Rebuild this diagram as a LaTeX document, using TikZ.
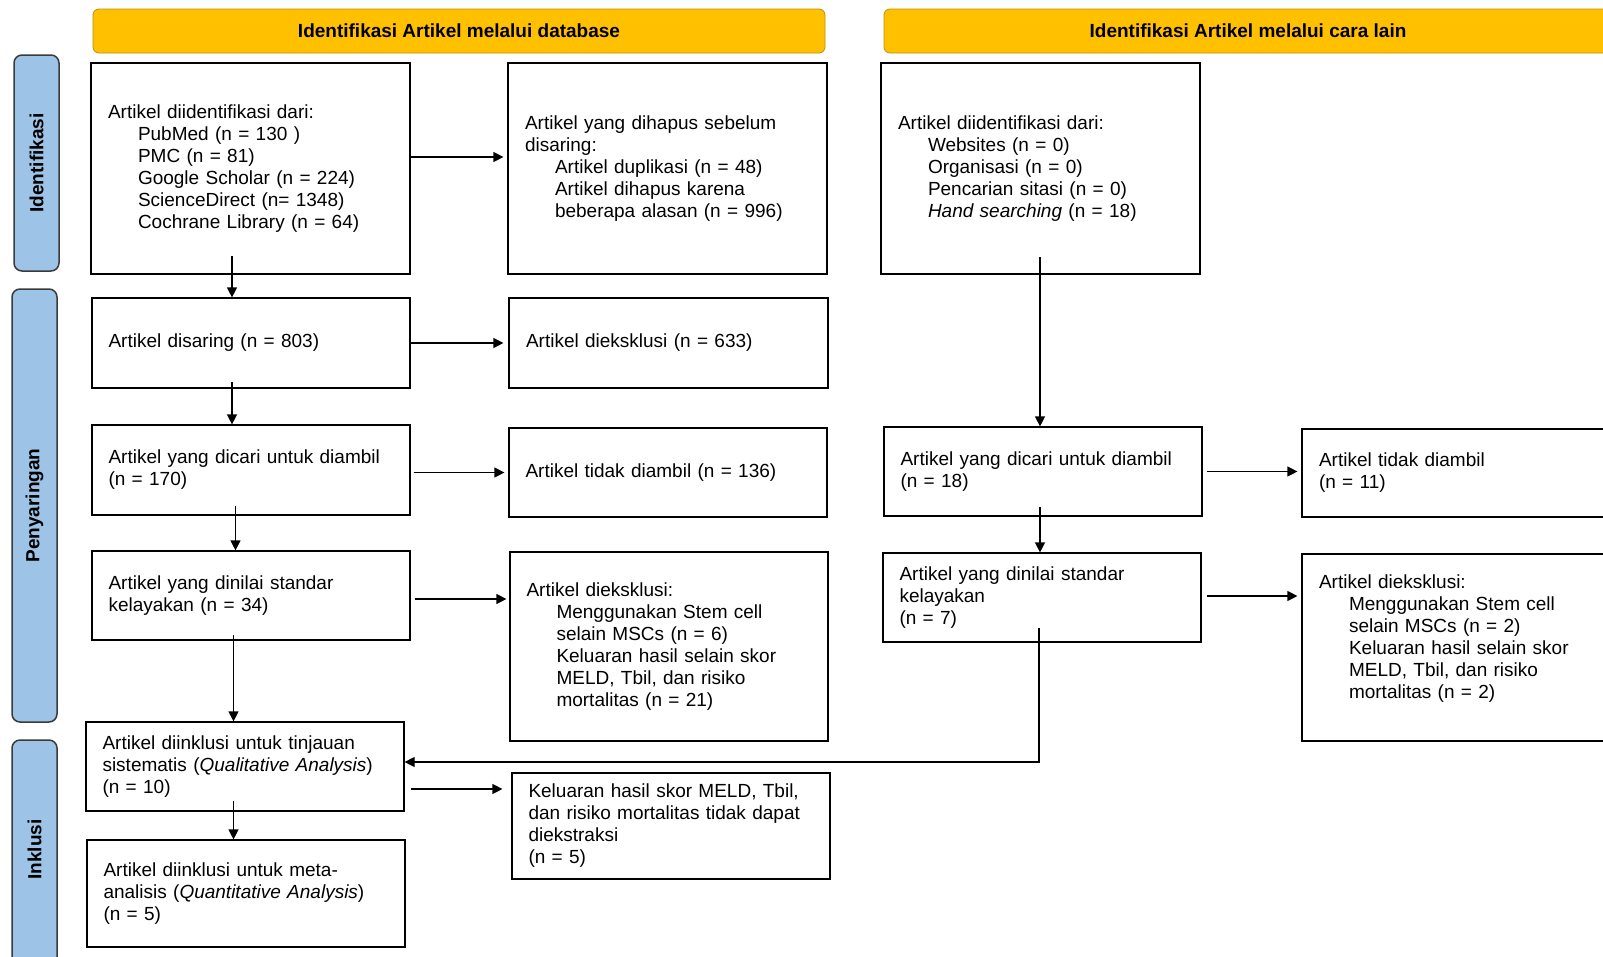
\documentclass[tikz,border=0pt]{standalone}
\usepackage{fontspec}
\setmainfont{Liberation Sans}
\usetikzlibrary{arrows.meta}
\definecolor{hdr}{HTML}{FFC000}
\definecolor{hdrline}{HTML}{C09000}
\definecolor{lanefill}{HTML}{9DC3E6}
\definecolor{laneline}{HTML}{3A3A3A}
\newcommand{\myind}{\hspace*{30pt}}
\begin{document}
\begin{tikzpicture}[x=1pt,y=-1pt,
  txt/.style={font=\fontsize{19}{22}\selectfont},
  box/.style n args={2}{draw=black, line width=1.2pt, rectangle, inner xsep=16.5pt, inner ysep=4pt,
    align=left, text width=285pt, txt, minimum width=#1pt, minimum height=#2pt},
  hdrbar/.style={draw=hdrline, line width=0.8pt, fill=hdr, rounded corners=6pt, rectangle,
    minimum height=44pt, txt, font=\fontsize{19}{22}\selectfont\bfseries},
  lanebar/.style={draw=laneline, line width=1.5pt, fill=lanefill, rounded corners=8pt, rectangle,
    minimum width=45pt},
  lanelabel/.style={rotate=90, font=\fontsize{19}{22}\selectfont\bfseries},
  arr/.style={line width=1.2pt, -{Triangle[length=10pt,width=10pt]}}]
\useasboundingbox (0,0) rectangle (1603,956);
\clip (0,0) rectangle (1603,956);

% header bars
\node[hdrbar, minimum width=732pt] (H1) at (459,31) {Identifikasi Artikel melalui database};
\node[hdrbar, minimum width=728pt] (H2) at (1248,31) {Identifikasi Artikel melalui cara lain};

% lane bars
\node[lanebar, minimum height=216pt] (L1) at (36.5,163) {};
\node[lanelabel] (L1t) at (L1.center) {Identifikasi};
\node[lanebar, minimum height=433pt] (L2) at (34.5,505.5) {};
\node[lanelabel] (L2t) at (L2.center) {Penyaringan};
\node[lanebar, minimum height=225pt] (L3) at (34.5,852.5) {};
\node[lanelabel] (L3t) at (34.5,849.5) {Inklusi};

% boxes
\node[box={319}{211}] (A1) at (250.5,168.5) {Artikel diidentifikasi dari:\\
\myind PubMed (n = 130 )\\
\myind PMC (n = 81)\\
\myind Google Scholar (n = 224)\\
\myind ScienceDirect (n= 1348)\\
\myind Cochrane Library (n = 64)};
\node[box={319}{211}] (B1) at (667.5,168.5) {Artikel yang dihapus sebelum\\
disaring:\\
\myind Artikel duplikasi (n = 48)\\
\myind Artikel dihapus karena\\
\myind beberapa alasan (n = 996)};
\node[box={319}{211}] (C1) at (1040.5,168.5) {Artikel diidentifikasi dari:\\
\myind Websites (n = 0)\\
\myind Organisasi (n = 0)\\
\myind Pencarian sitasi (n = 0)\\
\myind \textit{Hand searching} (n = 18)};

\node[box={318}{90}] (A2) at (251,343) {Artikel disaring (n = 803)};
\node[box={319}{90}] (B2) at (668.5,343) {Artikel dieksklusi (n = 633)};

\node[box={318}{90}] (A3) at (251,470) {Artikel yang dicari untuk diambil\\(n = 170)};
\node[box={318}{89}] (B3) at (668,472.5) {Artikel tidak diambil (n = 136)};
\node[box={318}{89}] (C3) at (1043,471.5) {Artikel yang dicari untuk diambil\\(n = 18)};
\node[box={319}{88}] (D3) at (1461.5,473) {Artikel tidak diambil\\(n = 11)};

\node[box={318}{89}] (A4) at (251,595.5) {Artikel yang dinilai standar\\kelayakan (n = 34)};
\node[box={318}{189}] (B4) at (669,646.5) {Artikel dieksklusi:\\
\myind Menggunakan Stem cell\\
\myind selain MSCs (n = 6)\\
\myind Keluaran hasil selain skor\\
\myind MELD, Tbil, dan risiko\\
\myind mortalitas (n = 21)};
\node[box={318}{89}] (C4) at (1042,597.5) {Artikel yang dinilai standar\\kelayakan\\(n = 7)};
\node[box={319}{187}] (D4) at (1461.5,647.5) {Artikel dieksklusi:\\
\myind Menggunakan Stem cell\\
\myind selain MSCs (n = 2)\\
\myind Keluaran hasil selain skor\\
\myind MELD, Tbil, dan risiko\\
\myind mortalitas (n = 2)\\
\mbox{}};

\node[box={318}{89}] (A5) at (245,766.5) {Artikel diinklusi untuk tinjauan\\
sistematis (\textit{Qualitative Analysis})\\
(n = 10)};
\node[box={318}{106}] (B5) at (671,826) {Keluaran hasil skor MELD, Tbil,\\
dan risiko mortalitas tidak dapat\\
diekstraksi\\
(n = 5)};
\node[box={318}{107}] (A6) at (246,893.5) {Artikel diinklusi untuk meta-\\
analisis (\textit{Quantitative Analysis})\\
(n = 5)};

% start points of vertical connectors (inside the boxes, as in the source)
\coordinate (s1) at (232,256);
\coordinate (s2) at (232,382);
\coordinate (s3) at (235.5,506);
\coordinate (s4) at (233.5,635);
\coordinate (s5) at (233.5,801);
\coordinate (s6) at (1040,257);
\coordinate (s7) at (1040,507);
\coordinate (s8) at (1039,628);

% vertical connectors
\draw[arr] (s1) -- (s1 |- A2.north);
\draw[arr] (s2) -- (s2 |- A3.north);
\draw[arr] (s3) -- (s3 |- A4.north);
\draw[arr] (s4) -- (s4 |- A5.north);
\draw[arr] (s5) -- (s5 |- A6.north);
\draw[arr] (s6) -- (s6 |- C3.north);
\draw[arr] (s7) -- (s7 |- C4.north);
\draw[arr] (s8) |- ([yshift=4.5pt]A5.east);

% horizontal connectors
\draw[arr, shorten >=4pt] ([yshift=11.5pt]A1.east) -- ([yshift=11.5pt]A1.east -| B1.west);
\draw[arr, shorten >=5pt] (A2.east) -- (A2.east -| B2.west);
\draw[arr, shorten >=4pt] ([xshift=3pt]A3.east |- B3.west) -- (B3.west);
\draw[arr, shorten >=3pt] ([xshift=4pt,yshift=-3.5pt]A4.east) -- ([yshift=-3.5pt]A4.east -| B4.west);
\draw[arr, shorten >=9pt] ([xshift=6pt,yshift=-22.5pt]A5.east) -- ([yshift=-22.5pt]A5.east -| B5.west);
\draw[arr, shorten >=4pt] ([xshift=4pt]C3.east) -- (C3.east -| D3.west);
\draw[arr, shorten >=4pt] ([xshift=5pt,yshift=1.5pt]C4.east) -- ([yshift=1.5pt]C4.east -| D4.west);
\end{tikzpicture}
\end{document}
